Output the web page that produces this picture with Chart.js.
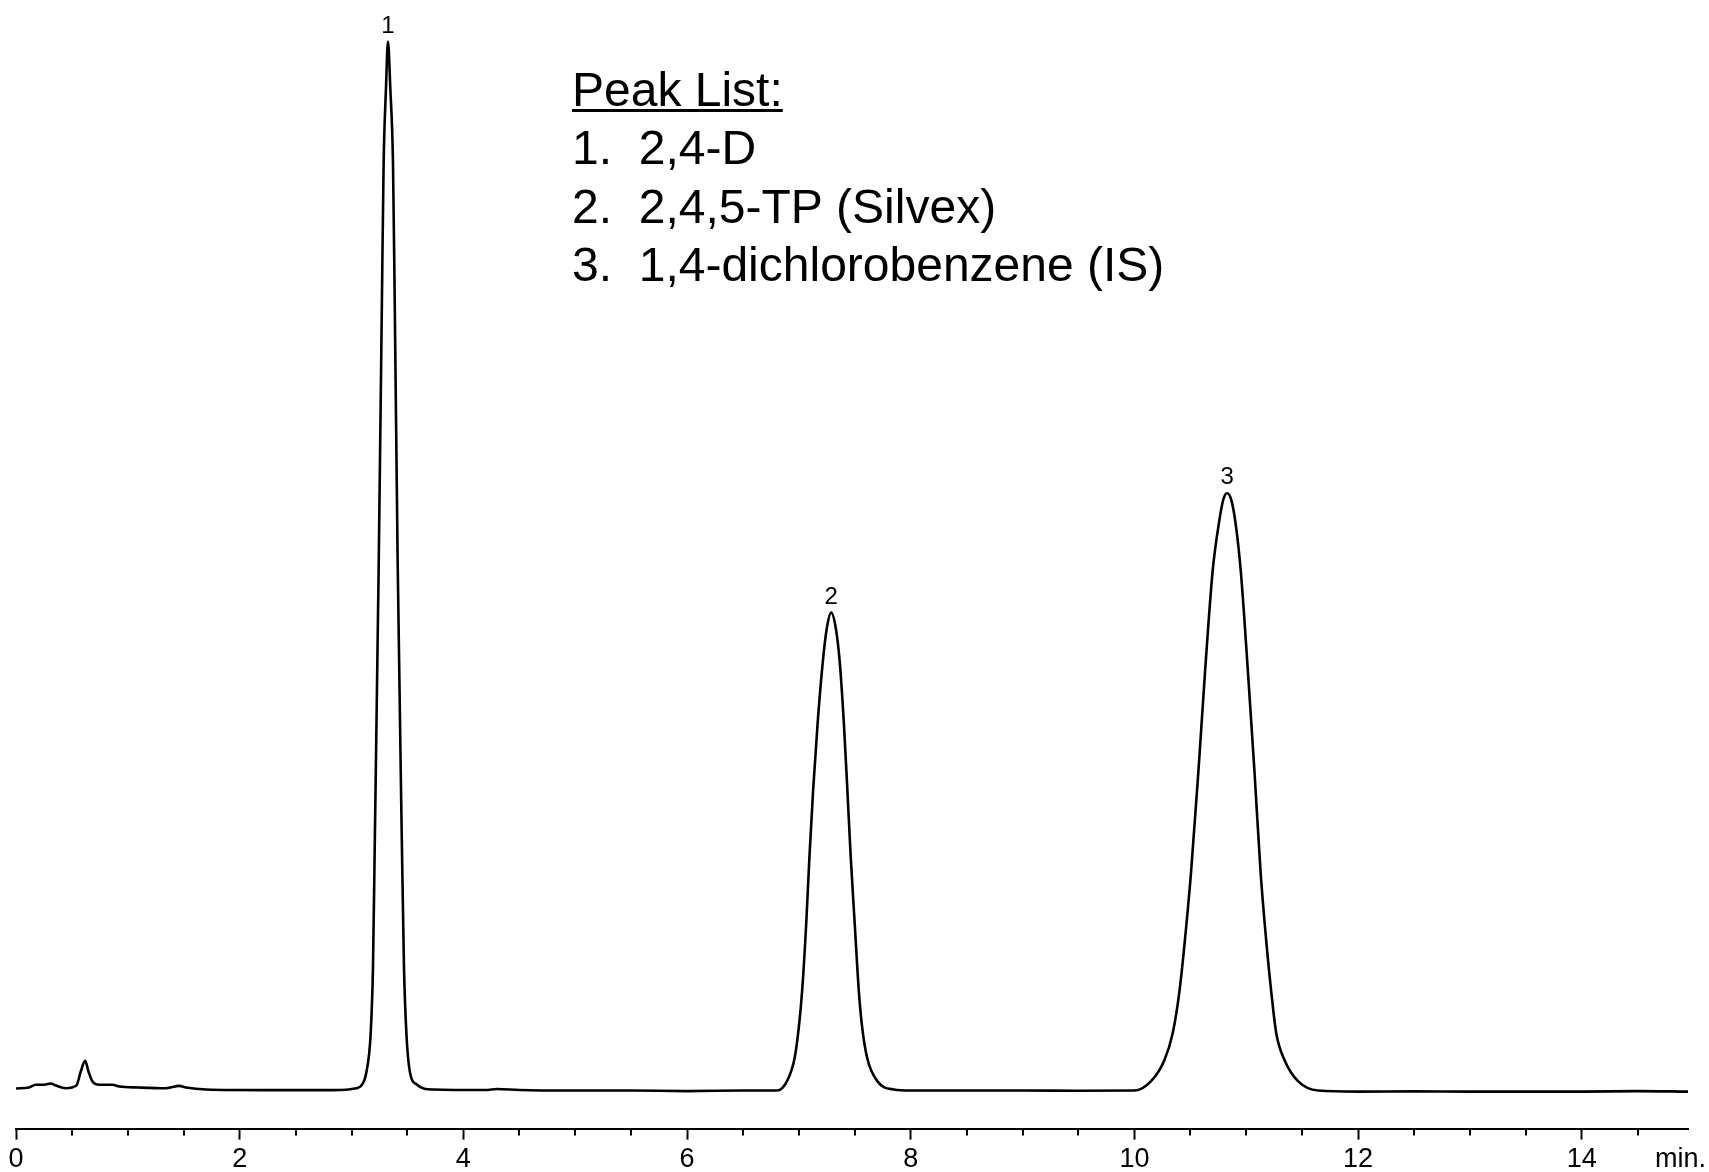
<!DOCTYPE html>
<html>
<head>
<meta charset="utf-8">
<script src="https://cdn.jsdelivr.net/npm/chart.js@4/dist/chart.umd.min.js"></script>
<style>
html,body{margin:0;padding:0;background:#fff;}
canvas{display:block;}
</style>
</head>
<body>
<canvas id="c" width="1709" height="1172" style="width:1709px;height:1172px"></canvas>
<script>
// Retention time (min)
const times = [0, 0.116, 0.176, 0.236, 0.311, 0.355, 0.445, 0.540, 0.579, 0.618, 0.648, 0.684, 0.743, 0.863, 0.923, 1.102, 1.341, 1.460, 1.520, 1.699, 2.237, 2.833,
  3.043, 3.102, 3.132, 3.171, 3.192, 3.209, 3.243, 3.272, 3.287, 3.308, 3.326, 3.347, 3.371, 3.386, 3.413, 3.449, 3.469, 3.491, 3.520, 3.580, 3.729,
  4.2, 4.3, 4.5, 5.0, 5.5, 6.0, 6.5,
  6.805, 6.894, 6.962, 7.002, 7.029, 7.065, 7.094, 7.127, 7.168, 7.212, 7.248, 7.289, 7.332, 7.367, 7.402, 7.434, 7.464, 7.500, 7.536, 7.563, 7.611, 7.701, 7.849, 7.999,
  8.5, 9.0, 9.5,
  9.999, 10.149, 10.268, 10.343, 10.402, 10.441, 10.507, 10.572, 10.632, 10.700, 10.755, 10.795, 10.829, 10.865, 10.905, 10.951, 11.015, 11.074, 11.128, 11.188, 11.224, 11.268, 11.343, 11.463, 11.642,
  12.0, 12.5, 13.0, 13.5, 14.0, 14.5, 14.95];
// Detector signal (relative)
const signal = [0.1, 0.2, 0.45, 0.45, 0.57, 0.38, 0.12, 0.38, 1.72, 2.74, 1.72, 0.76, 0.45, 0.45, 0.29, 0.19, 0.12, 0.35, 0.19, 0.0, -0.06, -0.06,
  0.12, 0.6, 1.6, 5.3, 11.7, 24.3, 50.0, 75.5, 88.3, 95.5, 100, 95.5, 88.3, 75.5, 50.0, 24.3, 11.7, 5.3, 1.8, 0.5, 0.0,
  -0.05, 0.05, -0.05, -0.1, -0.1, -0.15, -0.1,
  -0.1, 0.8, 3.0, 6.2, 9.4, 15.7, 22.1, 28.5, 35.0, 40.6, 43.9, 45.5, 43.9, 40.6, 35.0, 28.5, 22.1, 15.7, 9.4, 6.2, 3.0, 0.8, 0.0, -0.1,
  -0.1, -0.1, -0.12,
  -0.1, 0.8, 2.8, 5.4, 9.3, 13.1, 20.8, 30.3, 39.9, 49.5, 54.0, 56.3, 56.9, 56.3, 54.0, 49.5, 39.9, 30.3, 20.8, 13.1, 9.3, 5.4, 2.8, 0.8, -0.1,
  -0.2, -0.18, -0.2, -0.2, -0.2, -0.15, -0.2];

// Peak annotations
const peakNumbers = ['1', '2', '3'];
const peakTimes = [3.326, 7.289, 10.829];
const peakHeights = [100, 45.5, 56.9];
const peakList = ['1.  2,4-D', '2.  2,4,5-TP (Silvex)', '3.  1,4-dichlorobenzene (IS)'];
const peakListTitle = 'Peak List:';

// Axis ticks
const tickValues = [0, 0.5, 1, 1.5, 2, 2.5, 3, 3.5, 4, 4.5, 5, 5.5, 6, 6.5, 7, 7.5, 8, 8.5, 9, 9.5, 10, 10.5, 11, 11.5, 12, 12.5, 13, 13.5, 14, 14.5];
const majorTickLabels = ['0', '2', '4', '6', '8', '10', '12', '14'];
const axisUnit = 'min.';

const AXFONT = '"Liberation Sans", Arial, sans-serif';
const isMajor = v => majorTickLabels.includes(String(v));

const annot = {
  id: 'annot',
  afterDraw(chart) {
    const ctx = chart.ctx;
    const xs = chart.scales.x, ys = chart.scales.y;
    const area = chart.chartArea;
    ctx.save();
    // minor ticks
    ctx.strokeStyle = '#000';
    ctx.lineWidth = 2;
    tickValues.forEach(v => {
      if (isMajor(v)) return;
      const px = Math.round(xs.getPixelForValue(v));
      ctx.beginPath();
      ctx.moveTo(px, area.bottom);
      ctx.lineTo(px, area.bottom + 7);
      ctx.stroke();
    });
    // unit label
    ctx.fillStyle = '#000';
    ctx.font = '27px ' + AXFONT;
    ctx.textAlign = 'right';
    ctx.textBaseline = 'middle';
    ctx.fillText(axisUnit, area.right + 18, area.bottom + 31);
    // peak numbers
    ctx.font = '24px ' + AXFONT;
    ctx.textAlign = 'center';
    ctx.textBaseline = 'alphabetic';
    peakNumbers.forEach((n, i) => {
      const px = xs.getPixelForValue(peakTimes[i]);
      const py = ys.getPixelForValue(peakHeights[i]);
      ctx.fillText(n, px, py - 9);
    });
    // peak list
    ctx.font = '48px "Liberation Sans", Arial, sans-serif';
    ctx.textAlign = 'left';
    const lx = 572;
    ctx.fillText(peakListTitle, lx, 106);
    const w = ctx.measureText(peakListTitle).width;
    ctx.fillRect(lx, 109, w, 3);
    peakList.forEach((t, i) => ctx.fillText(t, lx, 164 + i * 58.5));
    ctx.restore();
  }
};

new Chart(document.getElementById('c'), {
  type: 'line',
  data: {
    datasets: [{
      data: times.map((t, i) => ({ x: t, y: signal[i] })),
      borderColor: '#000',
      borderWidth: 2.6,
      pointRadius: 0,
      fill: false,
      cubicInterpolationMode: 'monotone'
    }]
  },
  options: {
    responsive: false,
    animation: false,
    layout: { padding: { left: 16, right: 21, top: 0, bottom: -8 } },
    plugins: { legend: { display: false }, tooltip: { enabled: false } },
    scales: {
      x: {
        type: 'linear',
        min: 0,
        max: 14.95,
        afterBuildTicks: s => { s.ticks = tickValues.map(v => ({ value: v })); },
        border: { display: true, color: '#000', width: 2 },
        grid: {
          drawOnChartArea: false,
          drawTicks: true,
          tickLength: 11,
          tickWidth: 2,
          tickColor: c => (c.tick && isMajor(c.tick.value)) ? '#000' : 'rgba(0,0,0,0)'
        },
        ticks: {
          autoSkip: false,
          maxRotation: 0,
          padding: 4,
          color: '#000',
          font: { family: AXFONT, size: 27 },
          callback: v => isMajor(v) ? String(v) : ''
        }
      },
      y: {
        display: false,
        min: -3.73,
        max: 103.96
      }
    }
  },
  plugins: [annot]
});
</script>
</body>
</html>
